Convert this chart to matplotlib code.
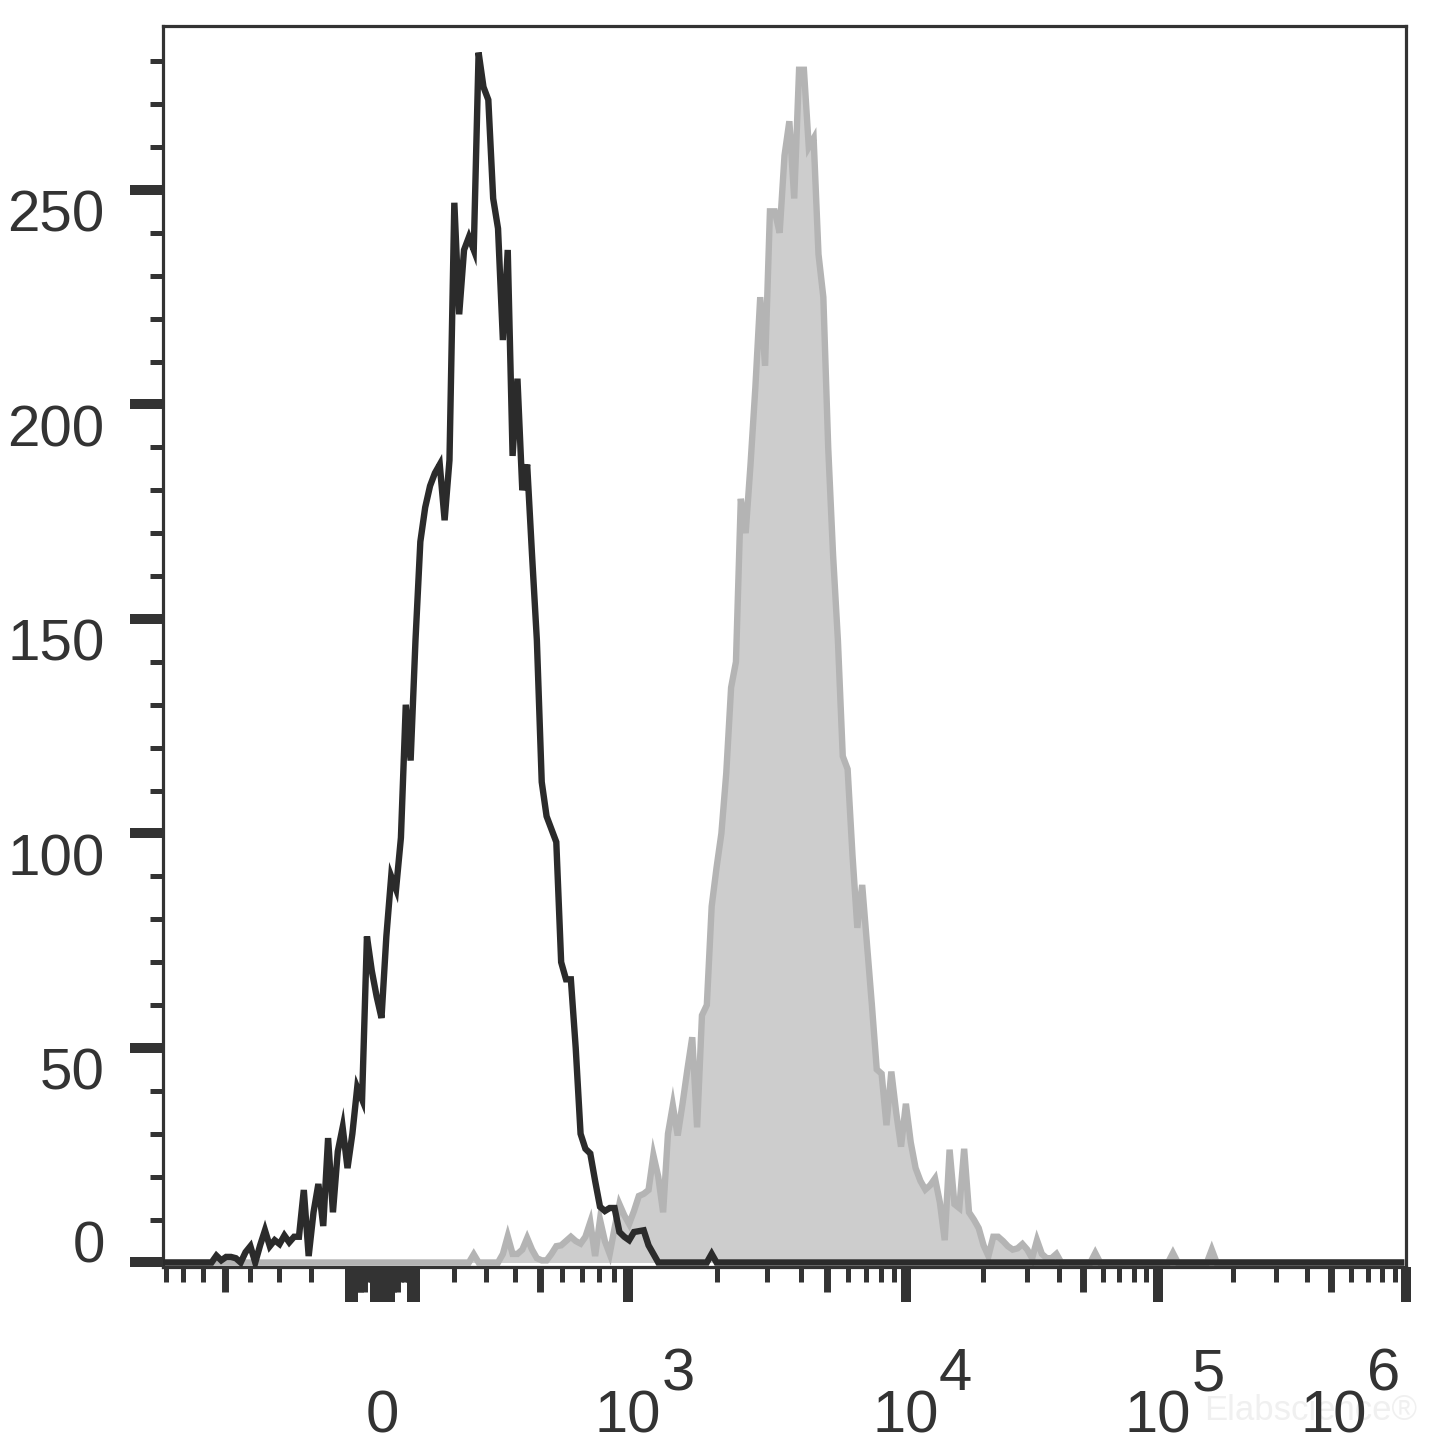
import numpy as np
import matplotlib
matplotlib.use('Agg')
import matplotlib.pyplot as plt

plt.rcParams['font.family'] = ['Liberation Sans', 'DejaVu Sans']

# histogram counts per display channel (256 channels across the axis)
n_channels = 256
black_start = 11
black_counts = [1.6, 0.5, 1.3, 1.3, 1, 0, 2.4, 3.8, 0, 4, 7.5, 3.8, 5.2, 4.3, 6.3, 4.7,
                6, 6, 16.9, 1.5, 11.7, 18.3, 8.5, 29, 11.7, 25.9, 31.5, 22, 30, 40.8, 38,
                76, 68, 62, 57, 76, 90, 87, 99, 130, 117, 145, 168, 176, 181, 184, 186,
                173, 187, 247, 221, 236, 239, 236, 282, 274, 271, 248, 241, 215, 236, 188,
                206, 180, 186, 165, 145, 112, 104, 101, 98, 70, 66, 66, 50, 30, 26.5, 25.4,
                19, 13, 12, 12.7, 12.7, 7.1, 6, 5.2, 7.1, 7.3, 7.5, 4, 2, 0,
                0, 0, 0, 0, 0, 0, 0, 0, 0, 0, 2]
gray_start = 64
gray_counts = [1.9, 0, 0, 0, 0, 0, 2, 6.1, 2, 2, 3, 5.7, 3, 1, 0.5, 0.5, 2, 3.8, 4, 5,
               6, 5, 4.4, 6, 9.4, 1.5, 10, 5, 2, 8, 13.6, 11, 9, 12, 15.5, 16, 16.9, 25,
               20, 11.7, 30, 36.6, 29.6, 37, 45, 52.5, 31.5, 57.6, 60, 83, 92, 100, 114,
               134, 140, 178, 170, 186, 204, 225, 209, 245, 245, 240, 258, 266, 248, 278,
               278, 260, 262, 235, 225, 190, 165, 145, 118, 115, 95, 78, 88, 74, 60, 45,
               44, 32, 44.5, 35, 27, 37, 28, 22, 19, 17, 18, 19.6, 14, 5.2, 26.3, 13.6,
               12.7, 26.5, 11.7, 10, 8, 4, 1.5, 6, 6, 5, 3.8, 3, 3.3, 4.3, 3, 1, 5.2, 2,
               1, 1, 2, 0, 0, 0, 0, 0, 0, 0, 2.2, 0, 0, 0, 0, 0, 0, 0, 0, 0, 0, 0, 0, 0,
               0, 0, 2.2, 0, 0, 0, 0, 0, 0, 0, 3, 0]

y_major = [0, 50, 100, 150, 200, 250]
y_minor = [v for v in range(0, 290, 10) if v % 50 != 0]

x_long = [-90, -80, -20, -10, 0, 10, 20, 80, 90, 1e3, 1e4, 1e5, 1e6]
x_medium = [-500, -70, -60, -50, 30, 40, 500, 5e3, 5e4, 5e5]
x_short = ([-800, -700, -600, -400, -300, -200, -40, -30, 50, 60, 70,
            200, 300, 400, 600, 700, 800, 900]
           + [k * 10 ** e for e in (3, 4, 5) for k in (2, 3, 4, 6, 7, 8, 9)])
x_label_vals = [0, 1e3, 1e4, 1e5, 1e6]
x_label_exps = [None, '3', '4', '5', '6']
x_label_shift = [0, 0, 0, 0, -52]


def logicle(T=1e6, W=0.716, M=4.85, A=0.17):
    w = W / (M + A)
    x2 = A / (M + A)
    x1 = x2 + w
    x0 = x2 + 2 * w
    b = (M + A) * np.log(10)
    lo, hi = 1e-8, b
    for _ in range(200):
        d = 0.5 * (lo + hi)
        if 2 * (np.log(d) - np.log(b)) + w * (b + d) > 0:
            hi = d
        else:
            lo = d
    ca = np.exp(x0 * (b + d))
    mfa = np.exp(b * x1) - ca * np.exp(-d * x1)
    a = T / (np.exp(b) - mfa - ca * np.exp(-d))
    c = ca * a
    f = -mfa * a

    def inv(x):
        x = np.asarray(x, dtype=float)
        xr = np.where(x < x1, 2 * x1 - x, x)
        v = a * np.exp(b * xr) - c * np.exp(-d * xr) + f
        return np.where(x < x1, -v, v)

    grid = np.linspace(-0.5, 1.5, 40001)
    sv = inv(grid)

    def fwd(v):
        return np.interp(np.asarray(v, dtype=float), sv, grid)

    return fwd, inv


fwd, inv = logicle()

black = np.zeros(n_channels)
black[black_start:black_start + len(black_counts)] = black_counts
gray = np.zeros(n_channels)
gray[gray_start:gray_start + len(gray_counts)] = gray_counts
xv = inv(np.arange(n_channels) / n_channels)

ink = '#333333'
fig = plt.figure(figsize=(14.45, 14.55), dpi=100)
ax = fig.add_axes([163 / 1445, 1 - 1267 / 1455, 1243 / 1445, 1241 / 1455])
ax.set_xscale('function', functions=(fwd, inv))

ax.fill_between(xv, gray, 0, color='#cdcdcd', lw=0, zorder=1)
ax.plot(xv, gray, color='#b4b4b4', lw=4.6, zorder=2, solid_joinstyle='miter')
ax.plot(xv, black, color='#2b2b2b', lw=4.6, zorder=3, solid_joinstyle='miter')

xlim = (float(inv(0.0)), 1e6)
ax.set_xlim(*xlim)
ax.set_ylim(-1.05, 288.2)

for s in ax.spines.values():
    s.set_linewidth(2.3)
    s.set_color(ink)

ax.set_yticks(y_major)
ax.set_yticks(y_minor, minor=True)
ax.tick_params(axis='y', which='major', length=24, width=7.2, color=ink,
               labelsize=42, labelcolor=ink, pad=18)
ax.tick_params(axis='y', which='minor', length=9.5, width=3.6, color=ink)
labels = ax.get_yticklabels()
for lbl in labels:
    lbl.set_va('top')
labels[0].set_va('baseline')

ax.set_xticks(x_long)
ax.set_xticks(x_short, minor=True)
ax.tick_params(axis='x', which='major', length=25.2, width=7.2, color=ink, labelbottom=False)
ax.tick_params(axis='x', which='minor', length=10.8, width=3.6, color=ink, labelbottom=False)

axm = ax.twiny()
axm.set_xscale('function', functions=(fwd, inv))
axm.set_xlim(*xlim)
axm.xaxis.set_ticks_position('bottom')
axm.set_xticks(x_medium)
axm.set_xticks([], minor=True)
axm.tick_params(axis='x', which='major', length=18, width=5, color=ink,
                labelbottom=False, labeltop=False)
for s in axm.spines.values():
    s.set_visible(False)

trans = ax.get_xaxis_transform()
for v, e, sh in zip(x_label_vals, x_label_exps, x_label_shift):
    if e is None:
        ax.text(v, -0.133, '0', transform=trans, ha='center', va='baseline',
                fontsize=43, color=ink)
        continue
    t = ax.annotate('10', xy=(v, -0.133), xycoords=trans, xytext=(sh, 0),
                    textcoords='offset points', ha='center', va='baseline',
                    fontsize=43, color=ink)
    ax.annotate(e, xy=(1, 1), xycoords=t, xytext=(0, -0.7), textcoords='offset points',
                ha='left', va='baseline', fontsize=43, color=ink)

fig.text(1311 / 1445, 1 - 1411 / 1455, 'Elabscience®', ha='center', va='center',
         fontsize=25, color='#f0f0f0', zorder=-1)

fig.savefig('out.png', dpi=100)
